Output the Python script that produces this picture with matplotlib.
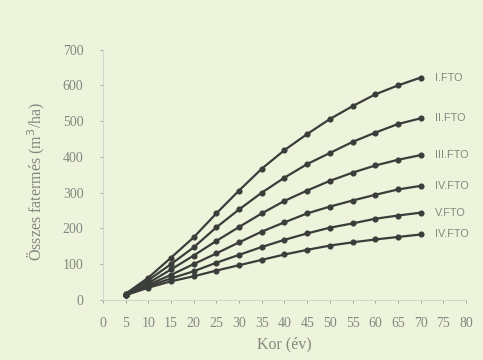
import matplotlib.pyplot as plt

# Age (years) and total yield (m3/ha) per site class
kor = [5, 10, 15, 20, 25, 30, 35, 40, 45, 50, 55, 60, 65, 70]
fto_1 = [17, 62, 118, 175, 242, 306, 367, 419, 464, 506, 542, 575, 600, 622]
fto_2 = [16, 55, 100, 147, 203, 253, 300, 342, 380, 411, 442, 468, 492, 508]
fto_3 = [15, 47, 85, 124, 165, 204, 242, 277, 306, 333, 356, 376, 392, 405]
fto_4 = [15, 42, 70, 100, 130, 161, 191, 217, 242, 261, 278, 294, 309, 319]
fto_5 = [14, 38, 60, 80, 104, 126, 148, 168, 186, 202, 214, 227, 236, 244]
fto_6 = [13, 34, 52, 66, 82, 97, 112, 127, 140, 152, 161, 169, 176, 183]
series = [fto_1, fto_2, fto_3, fto_4, fto_5, fto_6]
labels = ["I.FTO", "II.FTO", "III.FTO", "IV.FTO", "V.FTO", "IV.FTO"]
xticks = list(range(0, 85, 5))
yticks = list(range(0, 800, 100))

bg = "#eef4dc"
txt = "#84877f"

fig = plt.figure(figsize=(4.83, 3.6), dpi=100, facecolor=bg)
ax = fig.add_axes([0.213, 0.167, 0.752, 0.695], facecolor=bg)

for vals, lab in zip(series, labels):
    ax.plot(kor, vals, color="#3b3d3a", lw=1.6, marker="o", ms=3.4)
    ax.annotate(lab, (kor[-1], vals[-1]), xytext=(10, 0),
                textcoords="offset points", va="center", ha="left",
                fontsize=7.8, color=txt, family="Liberation Sans")

ax.set_xlim(0, 80)
ax.set_ylim(0, 700)
ax.set_xticks(xticks)
ax.set_yticks(yticks)
ax.tick_params(colors=txt, labelsize=10, length=2, width=0.5)
ax.tick_params(axis="x", pad=10)
ax.tick_params(axis="y", pad=12)
for t in ax.get_xticklabels() + ax.get_yticklabels():
    t.set_family("Liberation Serif")

for s in ["top", "right"]:
    ax.spines[s].set_visible(False)
for s in ["left", "bottom"]:
    ax.spines[s].set_color("#d3d7cb")
    ax.spines[s].set_linewidth(0.8)

ax.set_xlabel("Kor (év)", family="Liberation Serif", fontsize=11.5,
              color=txt, labelpad=5)
ax.set_ylabel("Összes fatermés (m$^3$/ha)", family="Liberation Serif",
              fontsize=11.5, color=txt)
ax.yaxis.set_label_coords(-0.153, 0.475)

fig.savefig("out.png", dpi=100, facecolor=bg)
